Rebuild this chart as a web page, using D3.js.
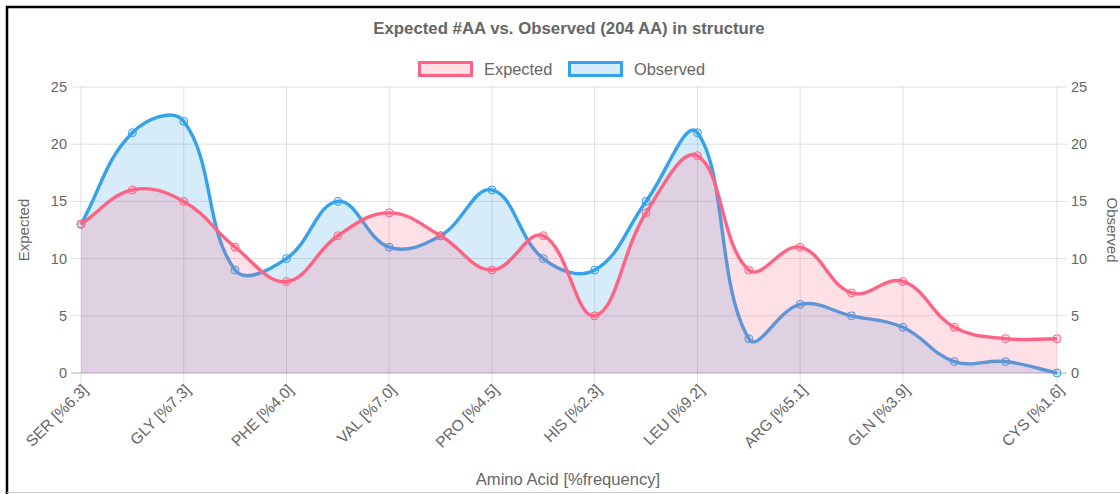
<!DOCTYPE html>
<html>
<head>
<meta charset="utf-8">
<script src="https://cdn.jsdelivr.net/npm/d3@7"></script>
<style>
  body { margin: 0; background: #fff; }
  svg { display: block; font-family: "Liberation Sans", Arial, Helvetica, sans-serif; }
</style>
</head>
<body>
<div id="chart"></div>
<script>
// amino acids, only every other label is shown on the axis (like chart.js autoSkip)
var categories = ["SER [%6.3]", "ALA [%7.8]", "GLY [%7.3]", "ASP [%5.4]", "PHE [%4.0]",
    "THR [%5.9]", "VAL [%7.0]", "ILE [%5.9]", "PRO [%4.5]", "LYS [%5.9]",
    "HIS [%2.3]", "GLU [%6.9]", "LEU [%9.2]", "ASN [%4.4]", "ARG [%5.1]",
    "TYR [%3.4]", "GLN [%3.9]", "MET [%2.0]", "TRP [%1.5]", "CYS [%1.6]"];
var expected = [13, 16, 15, 11, 8, 12, 14, 12, 9, 12, 5, 14, 19, 9, 11, 7, 8, 4, 3, 3];
var observed = [13, 21, 22, 9, 10, 15, 11, 12, 16, 10, 9, 15, 21, 3, 6, 5, 4, 1, 1, 0];
var yTicks = [0, 5, 10, 15, 20, 25];
var shownLabels = [0, 2, 4, 6, 8, 10, 12, 14, 16, 19];

var W = 1120, H = 494;
var area = { left: 81, right: 1057, top: 87, bottom: 373 };

var svg = d3.select("#chart").append("svg")
    .attr("width", W)
    .attr("height", H);

//frame of the screenshot
svg.append("line").attr("x1", 6).attr("x2", W).attr("y1", 7).attr("y2", 7)
    .style("stroke", "#000").style("stroke-width", 2.5);
svg.append("line").attr("x1", 7).attr("x2", 7).attr("y1", 6).attr("y2", H)
    .style("stroke", "#000").style("stroke-width", 2.5);
svg.append("line").attr("x1", 7).attr("x2", W).attr("y1", 492.5).attr("y2", 492.5)
    .style("stroke", "#c8c8c8").style("stroke-width", 1);

var x = d3.scalePoint().domain(d3.range(categories.length)).range([area.left, area.right]);
var y = d3.scaleLinear().domain([0, 25]).range([area.bottom, area.top]);

//chart.js style spline (tension 0.4, control points capped to chart area)
function chartCurve(context) {
    var pts;
    var t = 0.4;
    function cap(v, lo, hi) { return Math.max(lo, Math.min(hi, v)); }
    return {
        areaStart() {}, areaEnd() {},
        lineStart() { pts = []; },
        point(px, py) { pts.push([px, py]); },
        lineEnd() {
            var n = pts.length;
            var cps = pts.map(function (cur, i) {
                var prev = pts[i - 1] || cur, next = pts[i + 1] || cur;
                var d01 = Math.hypot(cur[0] - prev[0], cur[1] - prev[1]);
                var d12 = Math.hypot(next[0] - cur[0], next[1] - cur[1]);
                var s01 = d01 / (d01 + d12) || 0, s12 = d12 / (d01 + d12) || 0;
                var fa = t * s01, fb = t * s12;
                return {
                    px: cap(cur[0] - fa * (next[0] - prev[0]), area.left, area.right),
                    py: cap(cur[1] - fa * (next[1] - prev[1]), area.top, area.bottom),
                    nx: cap(cur[0] + fb * (next[0] - prev[0]), area.left, area.right),
                    ny: cap(cur[1] + fb * (next[1] - prev[1]), area.top, area.bottom)
                };
            });
            context.moveTo(pts[0][0], pts[0][1]);
            for (var i = 1; i < n; i++) {
                context.bezierCurveTo(cps[i - 1].nx, cps[i - 1].ny, cps[i].px, cps[i].py, pts[i][0], pts[i][1]);
            }
        }
    };
}

var gridColor = "rgba(0,0,0,0.12)";

//horizontal grid + ticks
yTicks.forEach(function (v) {
    svg.append("line")
        .attr("x1", area.left - 10).attr("x2", area.right + 10)
        .attr("y1", y(v)).attr("y2", y(v))
        .style("stroke", v === 0 ? "rgba(0,0,0,0.3)" : gridColor)
        .style("stroke-width", 1);
    svg.append("text")
        .attr("x", area.left - 14).attr("y", y(v))
        .attr("dy", "0.35em")
        .attr("text-anchor", "end")
        .style("font-size", "14.5px").style("fill", "#666")
        .text(v);
    svg.append("text")
        .attr("x", area.right + 14).attr("y", y(v))
        .attr("dy", "0.35em")
        .style("font-size", "14.5px").style("fill", "#666")
        .text(v);
});

//vertical grid + x labels
shownLabels.forEach(function (i) {
    svg.append("line")
        .attr("x1", x(i)).attr("x2", x(i))
        .attr("y1", area.top).attr("y2", area.bottom + 10)
        .style("stroke", gridColor).style("stroke-width", 1);
    svg.append("text")
        .attr("transform", "translate(" + (x(i) + 4) + "," + (area.bottom + 14) + ") rotate(-45)")
        .attr("text-anchor", "end")
        .attr("dy", "0.35em")
        .style("font-size", "15.5px").style("fill", "#666")
        .text(categories[i]);
});

var line = d3.line()
    .x(function (d, i) { return x(i); })
    .y(function (d) { return y(d); })
    .curve(chartCurve);

function areaPath(values) {
    return line(values) + "L" + x(values.length - 1) + "," + y(0) + "L" + x(0) + "," + y(0) + "Z";
}

//datasets: observed drawn first, expected on top
var datasets = [
    { values: observed, stroke: "rgb(54,162,235)", fill: "rgba(54,162,235,0.2)" },
    { values: expected, stroke: "rgb(255,99,132)", fill: "rgba(255,99,132,0.2)" }
];

datasets.forEach(function (ds) {
    var g = svg.append("g");
    g.append("path")
        .attr("d", areaPath(ds.values))
        .style("fill", ds.fill).style("stroke", "none");
    g.append("path")
        .attr("d", line(ds.values))
        .style("fill", "none")
        .style("stroke", ds.stroke)
        .style("stroke-width", 3.4);
    g.selectAll("circle")
        .data(ds.values)
        .enter().append("circle")
        .attr("cx", function (d, i) { return x(i); })
        .attr("cy", function (d) { return y(d); })
        .attr("r", 4)
        .style("fill", ds.fill)
        .style("stroke", ds.stroke)
        .style("stroke-width", 1);
});

//title
svg.append("text")
    .attr("x", 569).attr("y", 34)
    .attr("text-anchor", "middle")
    .style("font-size", "16.8px").style("font-weight", "bold").style("fill", "#666")
    .text("Expected #AA vs. Observed (204 AA) in structure");

//legend
var legend = [
    { name: "Expected", x: 418, stroke: "rgb(255,99,132)", fill: "rgba(255,99,132,0.2)" },
    { name: "Observed", x: 568, stroke: "rgb(54,162,235)", fill: "rgba(54,162,235,0.2)" }
];
legend.forEach(function (l) {
    svg.append("rect")
        .attr("x", l.x + 1.5).attr("y", 62.5)
        .attr("width", 52).attr("height", 13)
        .style("fill", l.fill).style("stroke", l.stroke).style("stroke-width", 3);
    svg.append("text")
        .attr("x", l.x + 66).attr("y", 69)
        .attr("dy", "0.35em")
        .style("font-size", "16.4px").style("fill", "#666")
        .text(l.name);
});

//axis titles
svg.append("text")
    .attr("x", 568).attr("y", 485)
    .attr("text-anchor", "middle")
    .style("font-size", "16.6px").style("fill", "#666")
    .text("Amino Acid [%frequency]");
svg.append("text")
    .attr("transform", "translate(24," + ((area.top + area.bottom) / 2) + ") rotate(-90)")
    .attr("text-anchor", "middle").attr("dy", "0.35em")
    .style("font-size", "15px").style("fill", "#666")
    .text("Expected");
svg.append("text")
    .attr("transform", "translate(1112," + ((area.top + area.bottom) / 2) + ") rotate(90)")
    .attr("text-anchor", "middle").attr("dy", "0.35em")
    .style("font-size", "15px").style("fill", "#666")
    .text("Observed");
</script>
</body>
</html>
